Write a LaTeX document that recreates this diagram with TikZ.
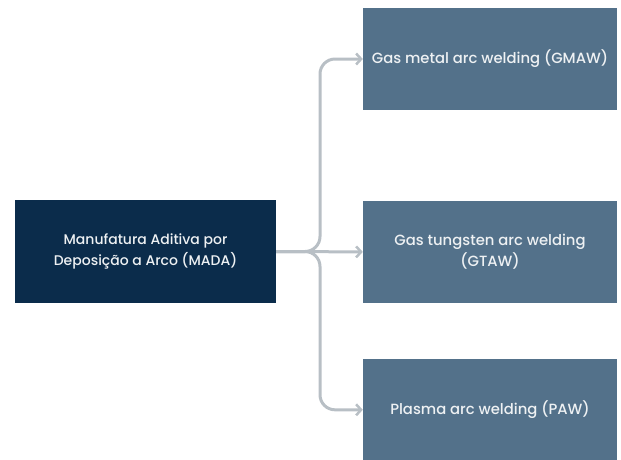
\documentclass[tikz,border=0pt]{standalone}
\usepackage{fontspec}
\setmainfont{Poppins}[UprightFont=* Medium]
\usetikzlibrary{positioning,arrows.meta}
\definecolor{MadaNavy}{HTML}{0B2C4B}
\definecolor{ProcSlate}{HTML}{53718A}
\definecolor{LinkGray}{HTML}{B8BFC5}
\definecolor{TextWhite}{HTML}{EEF1F3}

\begin{document}
\begin{tikzpicture}[
      x=1pt, y=-1pt,
      every node/.style={align=center, font=\fontsize{14}{20.5}\selectfont, text=TextWhite, inner sep=0pt},
      source/.style={fill=MadaNavy, minimum width=261pt, minimum height=103pt},
      process/.style={fill=ProcSlate, minimum width=254pt, minimum height=102pt, font=\fontsize{14.8}{20.5}\selectfont},
      arrow/.style={line width=3pt, LinkGray, -{Straight Barb[length=5pt, width=11pt, line width=2.5pt]}, rounded corners=15pt}
    ]
      \useasboundingbox (0,0) rectangle (621,459);
      \node[source] (mada) at (145.5,251.5) {Manufatura Aditiva por\\Deposição a Arco (MADA)};
      \node[process] (gmaw) at (490,59) {Gas metal arc welding (GMAW)};
      \node[process, below=90.5pt of gmaw] (gtaw) {Gas tungsten arc welding\\(GTAW)};
      \node[process, below=55.5pt of gtaw] (paw) {Plasma arc welding (PAW)};
      % Connectors
      \coordinate (split) at (320,251.5);
      \draw[arrow] (mada.east) -- (gtaw.west);
      \draw[arrow] (mada.east) -- (split) |- (gmaw.west);
      \draw[arrow] (mada.east) -- (split) |- (paw.west);
    \end{tikzpicture}
\end{document}
